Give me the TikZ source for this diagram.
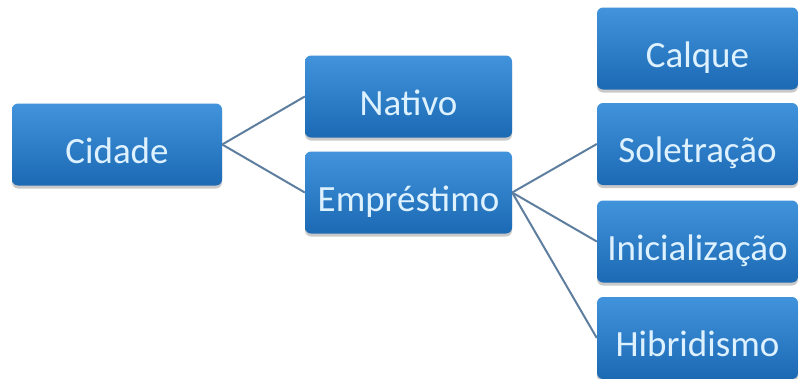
\documentclass[tikz,border=0pt]{standalone}
\usepackage{fontspec}
\setmainfont{Carlito}
\usepackage{tikz}
\usetikzlibrary{shadows,positioning,calc}
\definecolor{boxtop}{HTML}{4193DC}
\definecolor{boxbot}{HTML}{1C69B4}
\definecolor{boxtext}{HTML}{DDF1FF}
\definecolor{linkcol}{HTML}{5E7E9F}

\begin{document}
\begin{tikzpicture}[x=1pt,y=-1pt,
  caixa/.style={rounded corners=6pt,top color=boxtop,bottom color=boxbot,draw=none,
    minimum height=82pt,inner sep=0pt,text=boxtext,text height=37pt,text depth=0pt,
    font=\fontsize{37}{40}\selectfont,
    drop shadow={shadow xshift=0pt,shadow yshift=-3pt,opacity=0.35,fill=black!60}},
  liga/.style={draw=linkcol,line width=2pt}]
\useasboundingbox (0,0) rectangle (799,378);
\fill[white] (0,0) rectangle (799,378);
\node[caixa,minimum width=210pt] (Cid) at (117,144.5) {Cidade};
\node[caixa,minimum width=207pt] (Nat) at (408.5,96.5) {Nativo};
\node[caixa,minimum width=207pt] (Emp) at (408.5,192.5) {Empréstimo};
\node[caixa,minimum width=201pt] (Cal) at (697.5,48.5) {Calque};
\node[caixa,minimum width=201pt] (Sol) at (697.5,144) {Soletração};
\node[caixa,minimum width=201pt] (Ini) at (697.5,241.5) {Inicialização};
\node[caixa,minimum width=201pt] (Hib) at (697.5,338) {Hibridismo};
\draw[liga] (Cid.east) -- (Nat.west);
\draw[liga] (Cid.east) -- (Emp.west);
\draw[liga] (Emp.east) -- (Sol.west);
\draw[liga] (Emp.east) -- (Ini.west);
\draw[liga] (Emp.east) -- (Hib.west);
\end{tikzpicture}
\end{document}
